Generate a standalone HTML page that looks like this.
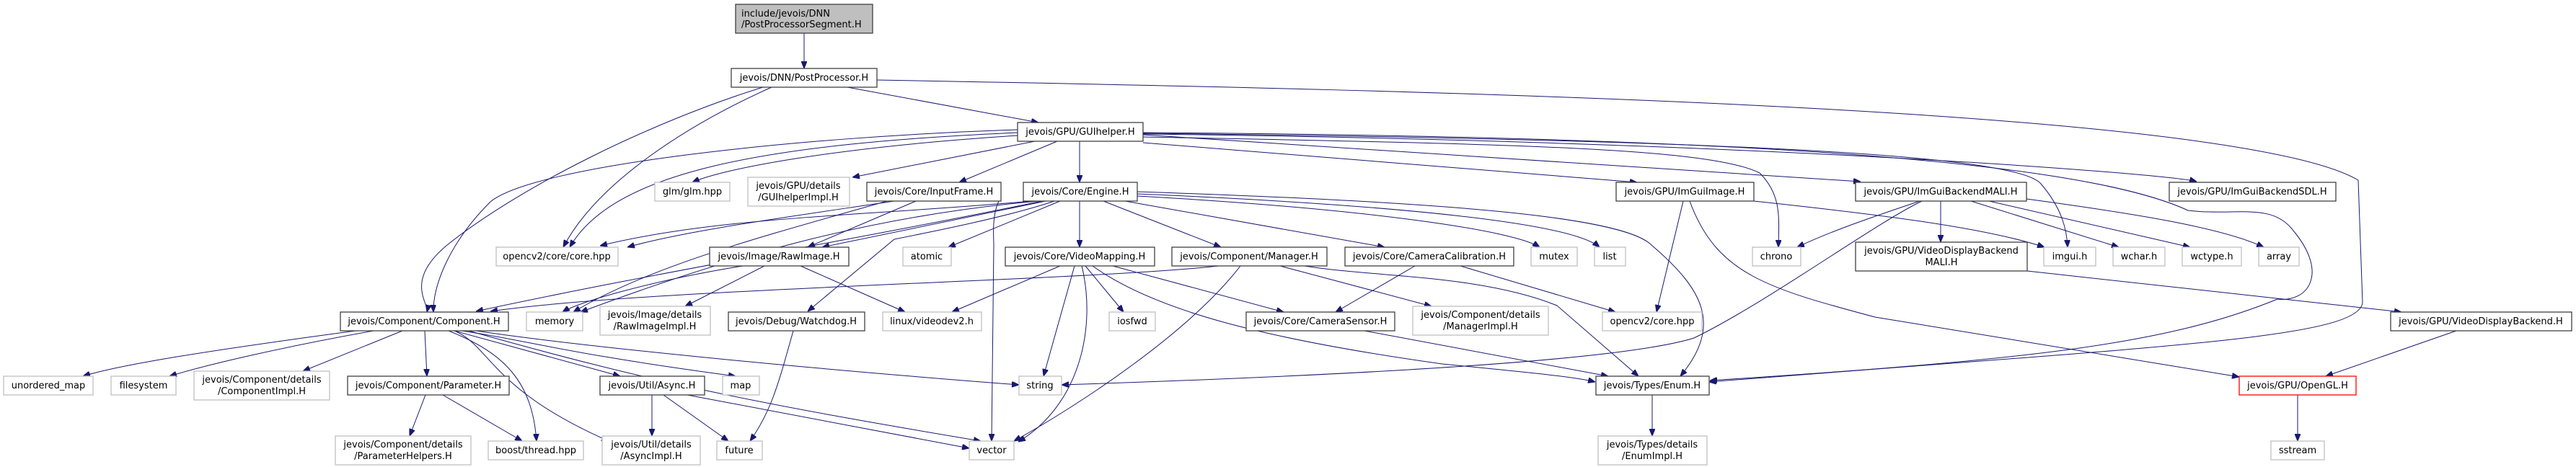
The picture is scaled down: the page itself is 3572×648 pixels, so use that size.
<!DOCTYPE html>
<html><head><meta charset="utf-8"><style>
html,body{margin:0;padding:0;background:#fff;}
svg{display:block;}
text{font-family:"DejaVu Sans","Liberation Sans",sans-serif;font-size:13px;fill:#000;}
.b{fill:#fff;stroke:#404040;stroke-width:1.3;}
.g{fill:#fff;stroke:#c0c0c0;stroke-width:1.3;}
.r{fill:#fff;stroke:#ff0000;stroke-width:1.3;}
.t{fill:#bfbfbf;stroke:#404040;stroke-width:1.3;}
path{fill:none;stroke:#191970;stroke-width:1;}
</style></head><body>
<svg width="3572" height="648" viewBox="0 0 3572 648" xmlns="http://www.w3.org/2000/svg">
<defs><marker id="a" viewBox="0 0 10 8" refX="10" refY="4" markerWidth="10" markerHeight="8" markerUnits="userSpaceOnUse" orient="auto"><path d="M0,0 L10,4 L0,8 z" style="fill:#191970;stroke:#191970"/></marker></defs>
<g marker-end="url(#a)">
<path d="M1115,46 L1115,95"/>
<path d="M1175,121 L1440,170"/>
<path d="M1058,121 C900,170 720,260 620,340 C560,390 595,420 592,433"/>
<path d="M1070,121 C960,170 830,250 781,343"/>
<path d="M1216,111 C2000,125 3100,150 3270,250 L3276,420 C3270,470 3000,480 2370,530"/>
<path d="M1411,180 C1100,190 740,230 680,280 C620,340 600,400 601,433"/>
<path d="M1411,184 C1050,200 850,240 790,343"/>
<path d="M1411,188 C1150,205 1000,235 960,253"/>
<path d="M1435,196 L1182,246"/>
<path d="M1466,196 L1330,253"/>
<path d="M1497,196 L1497,253"/>
<path d="M1585,198 L2270,253"/>
<path d="M1585,190 C2100,200 2370,205 2440,240 C2470,270 2467,300 2466,343"/>
<path d="M1585,187 L2580,252"/>
<path d="M1585,186 C2400,195 3000,240 3046,252"/>
<path d="M1585,185 C2500,195 2800,220 2830,255 C2860,290 2866,320 2867,343"/>
<path d="M1585,184 C2500,190 2900,230 3034,292 C3100,300 3150,280 3180,320 C3230,380 3200,420 3158,415 C3000,480 2800,500 2371,528"/>
<path d="M1430,279 C1200,300 1000,300 832,341"/>
<path d="M1450,279 L1140,343"/>
<path d="M1470,279 L1315,343"/>
<path d="M1440,279 C1200,300 1000,360 805,433"/>
<path d="M1445,279 C1200,330 900,380 660,432"/>
<path d="M1385,279 C1375,300 1378,330 1378,340 L1375,612"/>
<path d="M1462,279 C1400,300 1300,320 1240,332 L1120,432"/>
<path d="M1497,279 L1497,343"/>
<path d="M1530,279 L1693,343"/>
<path d="M1560,279 L1920,343"/>
<path d="M1577,272 C1900,290 2100,320 2135,343"/>
<path d="M1577,269 C1950,285 2180,310 2218,343"/>
<path d="M1577,266 C2000,280 2250,300 2290,340 C2360,400 2390,450 2330,522"/>
<path d="M1270,279 L1120,343"/>
<path d="M1240,279 C1100,300 950,320 870,343"/>
<path d="M1230,279 C1050,330 900,370 795,433"/>
<path d="M1060,369 L950,425"/>
<path d="M1110,369 L1255,433"/>
<path d="M1030,369 C900,390 800,420 780,433"/>
<path d="M1470,369 L1320,433"/>
<path d="M1490,369 L1447,522"/>
<path d="M1500,369 C1520,450 1500,560 1412,613"/>
<path d="M1505,369 L1558,433"/>
<path d="M1543,369 L1780,433"/>
<path d="M1515,369 C1600,430 1750,470 2000,505 C2100,515 2180,522 2212,530"/>
<path d="M1690,369 C1500,390 900,400 680,432"/>
<path d="M1720,369 C1650,460 1500,560 1406,612"/>
<path d="M1775,369 L1985,425"/>
<path d="M1803,368 C1900,385 2050,380 2159,424 L2272,522"/>
<path d="M1962,369 L1852,433"/>
<path d="M2025,369 L2240,433"/>
<path d="M1892,459 L2230,522"/>
<path d="M2334,279 L2297,433"/>
<path d="M2343,279 C2380,380 2450,400 2600,440 L3105,523"/>
<path d="M2432,279 C2600,297 2750,315 2835,343"/>
<path d="M2662,279 C2600,300 2540,320 2492,343"/>
<path d="M2665,279 C2600,310 2450,420 2349,469 C2250,500 1900,520 1472,534"/>
<path d="M2691,279 L2691,336"/>
<path d="M2733,279 L2938,343"/>
<path d="M2758,279 L3037,343"/>
<path d="M2810,276 C2950,295 3080,315 3139,343"/>
<path d="M2811,376 L3330,433"/>
<path d="M3406,459 L3225,522"/>
<path d="M3186,548 L3186,612"/>
<path d="M2291,548 L2291,605"/>
<path d="M493,459 C300,485 170,505 115,522"/>
<path d="M518,459 C400,480 290,505 235,522"/>
<path d="M558,459 L420,515"/>
<path d="M589,459 L592,522"/>
<path d="M630,459 L860,522"/>
<path d="M640,459 C720,470 780,490 1020,522"/>
<path d="M660,459 C800,480 1100,510 1413,534"/>
<path d="M630,459 C680,480 680,540 844,612"/>
<path d="M622,459 C700,490 738,530 744,612"/>
<path d="M650,459 C900,530 1050,560 1360,612"/>
<path d="M590,548 L568,605"/>
<path d="M614,548 L724,612"/>
<path d="M904,548 L904,605"/>
<path d="M920,548 L1010,612"/>
<path d="M953,548 L1344,622"/>
<path d="M1100,459 C1080,530 1070,570 1040,612"/>
</g>
<!-- nodes -->
<rect class="t" x="1020" y="6" width="190" height="40"/><text x="1028" y="23">include/jevois/DNN</text><text x="1028" y="38">/PostProcessorSegment.H</text>
<rect class="b" x="1014" y="95" width="202" height="26"/><text x="1115" y="112" text-anchor="middle">jevois/DNN/PostProcessor.H</text>
<rect class="b" x="1411" y="170" width="174" height="26"/><text x="1498" y="187" text-anchor="middle">jevois/GPU/GUIhelper.H</text>
<rect class="g" x="908" y="253" width="104" height="26"/><text x="960" y="270" text-anchor="middle">glm/glm.hpp</text>
<rect class="g" x="1037" y="246" width="141" height="40"/><text x="1107" y="262" text-anchor="middle">jevois/GPU/details</text><text x="1107" y="278" text-anchor="middle">/GUIhelperImpl.H</text>
<rect class="b" x="1202" y="253" width="186" height="26"/><text x="1295" y="270" text-anchor="middle">jevois/Core/InputFrame.H</text>
<rect class="b" x="1419" y="253" width="158" height="26"/><text x="1498" y="270" text-anchor="middle">jevois/Core/Engine.H</text>
<rect class="b" x="2241" y="253" width="191" height="26"/><text x="2336" y="270" text-anchor="middle">jevois/GPU/ImGuiImage.H</text>
<rect class="b" x="2573" y="253" width="237" height="26"/><text x="2691" y="270" text-anchor="middle">jevois/GPU/ImGuiBackendMALI.H</text>
<rect class="b" x="3008" y="253" width="231" height="26"/><text x="3123" y="270" text-anchor="middle">jevois/GPU/ImGuiBackendSDL.H</text>
<rect class="g" x="688" y="343" width="169" height="26"/><text x="772" y="360" text-anchor="middle">opencv2/core/core.hpp</text>
<rect class="b" x="984" y="343" width="193" height="26"/><text x="1080" y="360" text-anchor="middle">jevois/Image/RawImage.H</text>
<rect class="g" x="1252" y="343" width="67" height="26"/><text x="1285" y="360" text-anchor="middle">atomic</text>
<rect class="b" x="1394" y="343" width="207" height="26"/><text x="1497" y="360" text-anchor="middle">jevois/Core/VideoMapping.H</text>
<rect class="b" x="1625" y="343" width="215" height="26"/><text x="1732" y="360" text-anchor="middle">jevois/Component/Manager.H</text>
<rect class="b" x="1865" y="343" width="234" height="26"/><text x="1982" y="360" text-anchor="middle">jevois/Core/CameraCalibration.H</text>
<rect class="g" x="2123" y="343" width="64" height="26"/><text x="2155" y="360" text-anchor="middle">mutex</text>
<rect class="g" x="2211" y="343" width="43" height="26"/><text x="2232" y="360" text-anchor="middle">list</text>
<rect class="g" x="2430" y="343" width="67" height="26"/><text x="2463" y="360" text-anchor="middle">chrono</text>
<rect class="b" x="2573" y="336" width="238" height="40"/><text x="2692" y="352" text-anchor="middle">jevois/GPU/VideoDisplayBackend</text><text x="2692" y="368" text-anchor="middle">MALI.H</text>
<rect class="g" x="2834" y="343" width="72" height="26"/><text x="2870" y="360" text-anchor="middle">imgui.h</text>
<rect class="g" x="2930" y="343" width="72" height="26"/><text x="2966" y="360" text-anchor="middle">wchar.h</text>
<rect class="g" x="3026" y="343" width="82" height="26"/><text x="3067" y="360" text-anchor="middle">wctype.h</text>
<rect class="g" x="3132" y="343" width="56" height="26"/><text x="3160" y="360" text-anchor="middle">array</text>
<rect class="b" x="472" y="433" width="233" height="26"/><text x="588" y="450" text-anchor="middle">jevois/Component/Component.H</text>
<rect class="g" x="730" y="433" width="78" height="26"/><text x="769" y="450" text-anchor="middle">memory</text>
<rect class="g" x="832" y="425" width="153" height="40"/><text x="908" y="441" text-anchor="middle">jevois/Image/details</text><text x="908" y="457" text-anchor="middle">/RawImageImpl.H</text>
<rect class="b" x="1010" y="433" width="189" height="26"/><text x="1104" y="450" text-anchor="middle">jevois/Debug/Watchdog.H</text>
<rect class="g" x="1224" y="433" width="137" height="26"/><text x="1292" y="450" text-anchor="middle">linux/videodev2.h</text>
<rect class="g" x="1538" y="433" width="64" height="26"/><text x="1570" y="450" text-anchor="middle">iosfwd</text>
<rect class="b" x="1728" y="433" width="206" height="26"/><text x="1831" y="450" text-anchor="middle">jevois/Core/CameraSensor.H</text>
<rect class="g" x="1959" y="425" width="188" height="40"/><text x="2053" y="441" text-anchor="middle">jevois/Component/details</text><text x="2053" y="457" text-anchor="middle">/ManagerImpl.H</text>
<rect class="g" x="2222" y="433" width="138" height="26"/><text x="2291" y="450" text-anchor="middle">opencv2/core.hpp</text>
<rect class="b" x="3315" y="433" width="251" height="26"/><text x="3440" y="450" text-anchor="middle">jevois/GPU/VideoDisplayBackend.H</text>
<rect class="g" x="5" y="522" width="124" height="26"/><text x="67" y="539" text-anchor="middle">unordered_map</text>
<rect class="g" x="154" y="522" width="90" height="26"/><text x="199" y="539" text-anchor="middle">filesystem</text>
<rect class="g" x="269" y="515" width="188" height="40"/><text x="363" y="531" text-anchor="middle">jevois/Component/details</text><text x="363" y="547" text-anchor="middle">/ComponentImpl.H</text>
<rect class="b" x="482" y="522" width="224" height="26"/><text x="594" y="539" text-anchor="middle">jevois/Component/Parameter.H</text>
<rect class="b" x="832" y="522" width="145" height="26"/><text x="904" y="539" text-anchor="middle">jevois/Util/Async.H</text>
<rect class="g" x="1002" y="522" width="51" height="26"/><text x="1027" y="539" text-anchor="middle">map</text>
<rect class="g" x="1413" y="522" width="59" height="26"/><text x="1442" y="539" text-anchor="middle">string</text>
<rect class="b" x="2213" y="522" width="157" height="26"/><text x="2291" y="539" text-anchor="middle">jevois/Types/Enum.H</text>
<rect class="r" x="3105" y="522" width="162" height="26"/><text x="3186" y="539" text-anchor="middle">jevois/GPU/OpenGL.H</text>
<rect class="g" x="465" y="605" width="188" height="40"/><text x="559" y="621" text-anchor="middle">jevois/Component/details</text><text x="559" y="637" text-anchor="middle">/ParameterHelpers.H</text>
<rect class="g" x="677" y="612" width="132" height="26"/><text x="743" y="629" text-anchor="middle">boost/thread.hpp</text>
<rect class="g" x="835" y="605" width="136" height="40"/><text x="903" y="621" text-anchor="middle">jevois/Util/details</text><text x="903" y="637" text-anchor="middle">/AsyncImpl.H</text>
<rect class="g" x="994" y="612" width="63" height="26"/><text x="1025" y="629" text-anchor="middle">future</text>
<rect class="g" x="1344" y="612" width="62" height="26"/><text x="1375" y="629" text-anchor="middle">vector</text>
<rect class="g" x="2216" y="605" width="151" height="40"/><text x="2291" y="621" text-anchor="middle">jevois/Types/details</text><text x="2291" y="637" text-anchor="middle">/EnumImpl.H</text>
<rect class="g" x="3149" y="612" width="74" height="26"/><text x="3186" y="629" text-anchor="middle">sstream</text>
</svg>
</body></html>
